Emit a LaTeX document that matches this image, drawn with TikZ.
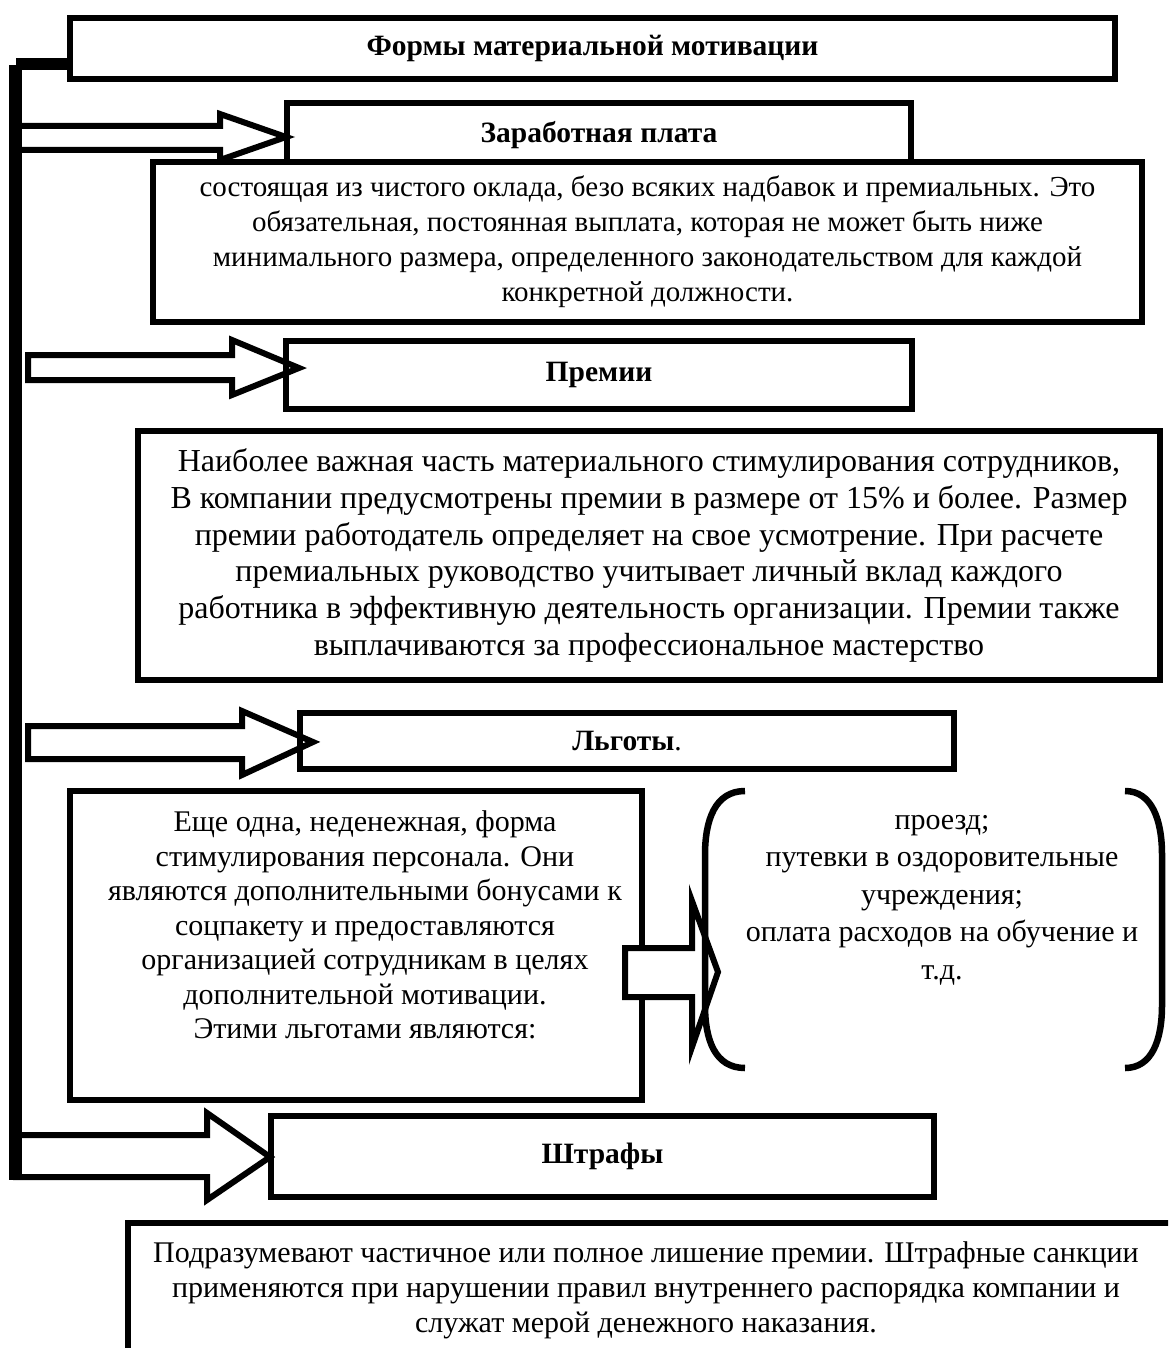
\documentclass[tikz,border=0pt]{standalone}
\usepackage{fontspec}
\setmainfont{Liberation Serif}
\begin{document}
\begin{tikzpicture}[x=1pt,y=-1pt,
  box/.style={draw,line width=6pt,fill=white,rectangle,inner sep=0pt},
  hbox/.style={draw,line width=6pt,rectangle,inner sep=0pt,font=\fontsize{29.5}{34}\selectfont\bfseries},
  barrow/.style={draw,line width=6pt,fill=white,line join=miter},
  t29/.style={align=center,font=\fontsize{29}{35}\selectfont,inner sep=0pt},
  t32/.style={align=center,font=\fontsize{32}{36.8}\selectfont,inner sep=0pt},
  t30/.style={align=center,font=\fontsize{30}{34.5}\selectfont,inner sep=0pt},
  t30b/.style={align=center,font=\fontsize{30}{37.5}\selectfont,inner sep=0pt},
  t30c/.style={align=center,font=\fontsize{30}{35}\selectfont,inner sep=0pt},
  bracket/.style={draw,line width=6.5pt},
  spine/.style={line width=13pt}]
\useasboundingbox (0,0) rectangle (1168,1348);
\clip (0,0) rectangle (1168,1348);

% title
\node[hbox,fill=white,minimum width=1045pt,minimum height=61pt] (title) at (592.5,48.5) {Формы материальной мотивации};

% --- Заработная плата
\draw[barrow] (16,126) -- (220,126) -- (220,114) -- (286,137) -- (220,160) -- (220,150) -- (16,150) -- cycle;
\node[hbox,minimum width=624pt,minimum height=64pt] (zp) at (599,135) {Заработная плата};
\node[box,minimum width=989pt,minimum height=160pt,t29] (d1) at (647.5,242) {состоящая из чистого оклада, безо всяких надбавок и премиальных. Это\\обязательная, постоянная выплата, которая не может быть ниже\\минимального размера, определенного законодательством для каждой\\конкретной должности.};

% --- Премии
\draw[barrow] (28,355) -- (232,355) -- (232,340) -- (299,368) -- (232,395) -- (232,380) -- (28,380) -- cycle;
\node[hbox,minimum width=626pt,minimum height=68pt] (pr) at (599,375) {Премии};
\node[box,minimum width=1022pt,minimum height=249pt,t32] (d2) at (649,555.5) {Наиболее важная часть материального стимулирования сотрудников,\\В компании предусмотрены премии в размере от 15\% и более. Размер\\премии работодатель определяет на свое усмотрение. При расчете\\премиальных руководство учитывает личный вклад каждого\\работника в эффективную деятельность организации. Премии также\\выплачиваются за профессиональное мастерство};

% --- Льготы
\draw[barrow] (28,726) -- (242,726) -- (242,711) -- (313,742) -- (242,775) -- (242,759) -- (28,759) -- cycle;
\node[hbox,minimum width=654pt,minimum height=56pt] (lg) at (627,741) {Льготы{\mdseries.}};
\node[box,minimum width=572pt,minimum height=309pt] (d3) at (356,945.5) {};
\node[t30] (d3t) at (365,925) {Еще одна, неденежная, форма\\стимулирования персонала. Они\\являются дополнительными бонусами к\\соцпакету и предоставляются\\организацией сотрудникам в целях\\дополнительной мотивации.\\Этими льготами являются:};

\draw[barrow] (625,948) -- (692,948) -- (692,901) -- (718,972) -- (692,1047) -- (692,997) -- (625,997) -- cycle;
\draw[bracket] (745,791) .. controls (715,791) and (705,820) .. (705,855) -- (705,1005) .. controls (705,1040) and (715,1068) .. (745,1068);
\draw[bracket] (1125,791) .. controls (1152,791) and (1162,820) .. (1162,855) -- (1162,1005) .. controls (1162,1040) and (1152,1068) .. (1125,1068);
\node[t30b] (br) at (942,900) {проезд;\\путевки в оздоровительные\\учреждения;\\оплата расходов на обучение и\\т.д.};

% --- Штрафы
\draw[barrow] (16,1135) -- (207,1135) -- (207,1113) -- (270,1157) -- (207,1200) -- (207,1177) -- (16,1177) -- cycle;
\node[hbox,minimum width=663pt,minimum height=81pt] (sh) at (602.5,1156.5) {Штрафы};
\draw[line width=6pt] (1180,1223) -- (128,1223) -- (128,1360);
\node[t30c] (d4) at (646,1290) {Подразумевают частичное или полное лишение премии. Штрафные санкции\\применяются при нарушении правил внутреннего распорядка компании и\\служат мерой денежного наказания.};

% spine
\draw[line width=12pt] (16,64) -- (title.west |- 0,64);
\draw[spine] (15.5,65) -- (15.5,1180);
\end{tikzpicture}
\end{document}
